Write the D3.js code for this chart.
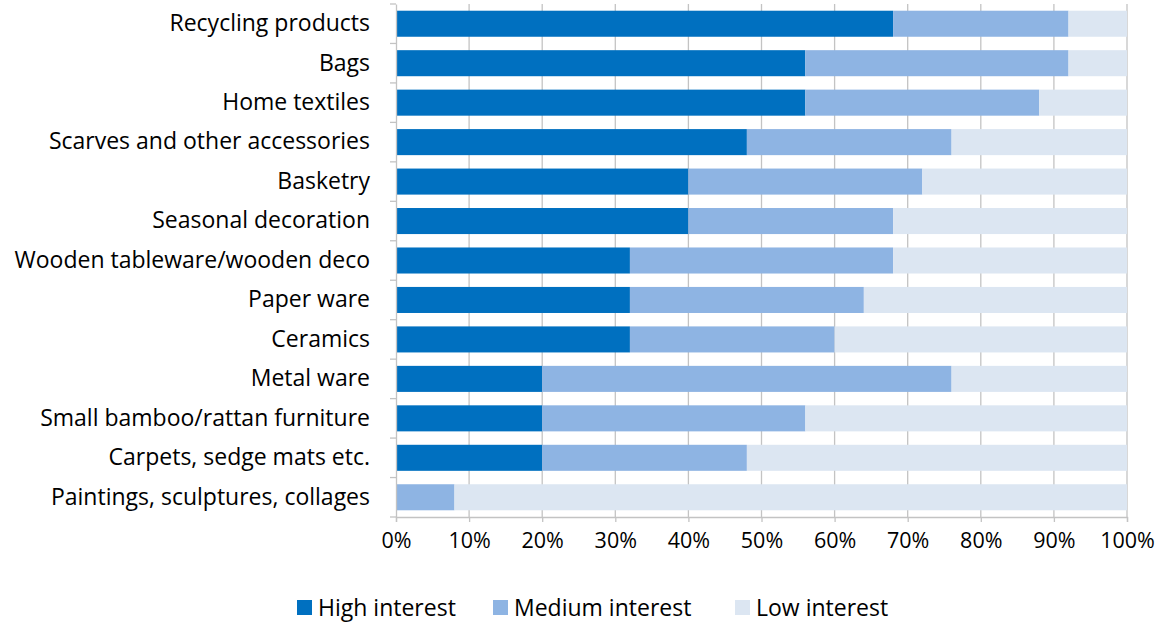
<!DOCTYPE html>
<html>
<head>
<meta charset="utf-8">
<script src="https://cdn.jsdelivr.net/npm/d3@7"></script>
<style>
  body { margin: 0; background: #fff; }
  text { font-family: "Open Sans", Lato, sans-serif; fill: #000; }
</style>
</head>
<body>
<script>
var categories = [
    "Recycling products",
    "Bags",
    "Home textiles ",
    "Scarves and other accessories",
    "Basketry",
    "Seasonal decoration",
    "Wooden tableware/wooden deco",
    "Paper ware",
    "Ceramics",
    "Metal ware",
    "Small bamboo/rattan furniture",
    "Carpets, sedge mats etc.",
    "Paintings, sculptures, collages"
];
var highInterest   = [68, 56, 56, 48, 40, 40, 32, 32, 32, 20, 20, 20, 0];
var mediumInterest = [24, 36, 32, 28, 32, 28, 36, 32, 28, 56, 36, 28, 8];
var lowInterest    = [8, 8, 12, 24, 28, 32, 32, 36, 40, 24, 44, 52, 92];
var seriesNames = ["High interest", "Medium interest", "Low interest"];
var tickValues = [0, 10, 20, 30, 40, 50, 60, 70, 80, 90, 100];

var colors = ["#0070c0", "#8eb4e3", "#dce6f2"];

var W = 1158, H = 622;
var margin = { left: 396, right: 31, top: 4, bottom: 105 };
var width = W - margin.left - margin.right;
var height = H - margin.top - margin.bottom;

var svg = d3.select("body").append("svg")
    .attr("width", W)
    .attr("height", H);

var g = svg.append("g")
    .attr("transform", "translate(" + margin.left + "," + margin.top + ")");

var x = d3.scaleLinear().domain([0, 100]).range([0, width]);
var y = d3.scaleBand().domain(categories).range([0, height]).paddingInner(0.34).paddingOuter(0.17);

// grid lines
g.selectAll(".grid")
    .data(tickValues.slice(1))
    .enter()
    .append("line")
    .attr("x1", function (d) { return x(d); })
    .attr("x2", function (d) { return x(d); })
    .attr("y1", 0)
    .attr("y2", height)
    .attr("stroke", "#c3c3c3")
    .attr("stroke-width", 1.3);

// stacked data
var rows = categories.map(function (c, i) {
    return { cat: c, high: highInterest[i], medium: mediumInterest[i], low: lowInterest[i] };
});
var stack = d3.stack().keys(["high", "medium", "low"]);
var layers = stack(rows);

g.selectAll(".layer")
    .data(layers)
    .enter()
    .append("g")
    .attr("fill", function (d, i) { return colors[i]; })
    .selectAll("rect")
    .data(function (d) { return d; })
    .enter()
    .append("rect")
    .attr("x", function (d) { return x(d[0]); })
    .attr("width", function (d) { return x(d[1]) - x(d[0]); })
    .attr("y", function (d) { return y(d.data.cat); })
    .attr("height", y.bandwidth());

// bottom axis
var xAxis = g.append("g")
    .attr("transform", "translate(0," + height + ")")
    .call(d3.axisBottom(x).tickValues(tickValues).tickSize(5).tickPadding(11)
        .tickFormat(function (d) { return d + "%"; }));
xAxis.select(".domain").attr("stroke", "#c3c3c3").attr("stroke-width", 1.3);
xAxis.selectAll(".tick line").attr("stroke", "#c3c3c3").attr("stroke-width", 1.3);
xAxis.selectAll("text").style("font-size", "21.5px").attr("fill", "#000");

// left axis
var yAxis = g.append("g")
    .call(d3.axisLeft(y).tickSize(0).tickPadding(26));
yAxis.select(".domain").attr("stroke", "#c3c3c3").attr("stroke-width", 1.3);
yAxis.selectAll("text").style("font-size", "23px").attr("fill", "#000");

// category boundary ticks
var step = y.step();
g.selectAll(".ytick")
    .data(d3.range(categories.length + 1))
    .enter()
    .append("line")
    .attr("x1", -6)
    .attr("x2", 0)
    .attr("y1", function (d) { return d * step; })
    .attr("y2", function (d) { return d * step; })
    .attr("stroke", "#c3c3c3")
    .attr("stroke-width", 1.3);

// legend
var legendX = [297, 493, 735];
var legend = svg.append("g");
seriesNames.forEach(function (name, i) {
    legend.append("rect")
        .attr("x", legendX[i])
        .attr("y", 600)
        .attr("width", 15)
        .attr("height", 15)
        .attr("fill", colors[i]);
    legend.append("text")
        .attr("x", legendX[i] + 21)
        .attr("y", 616)
        .style("font-size", "23px")
        .text(name);
});
</script>
</body>
</html>
